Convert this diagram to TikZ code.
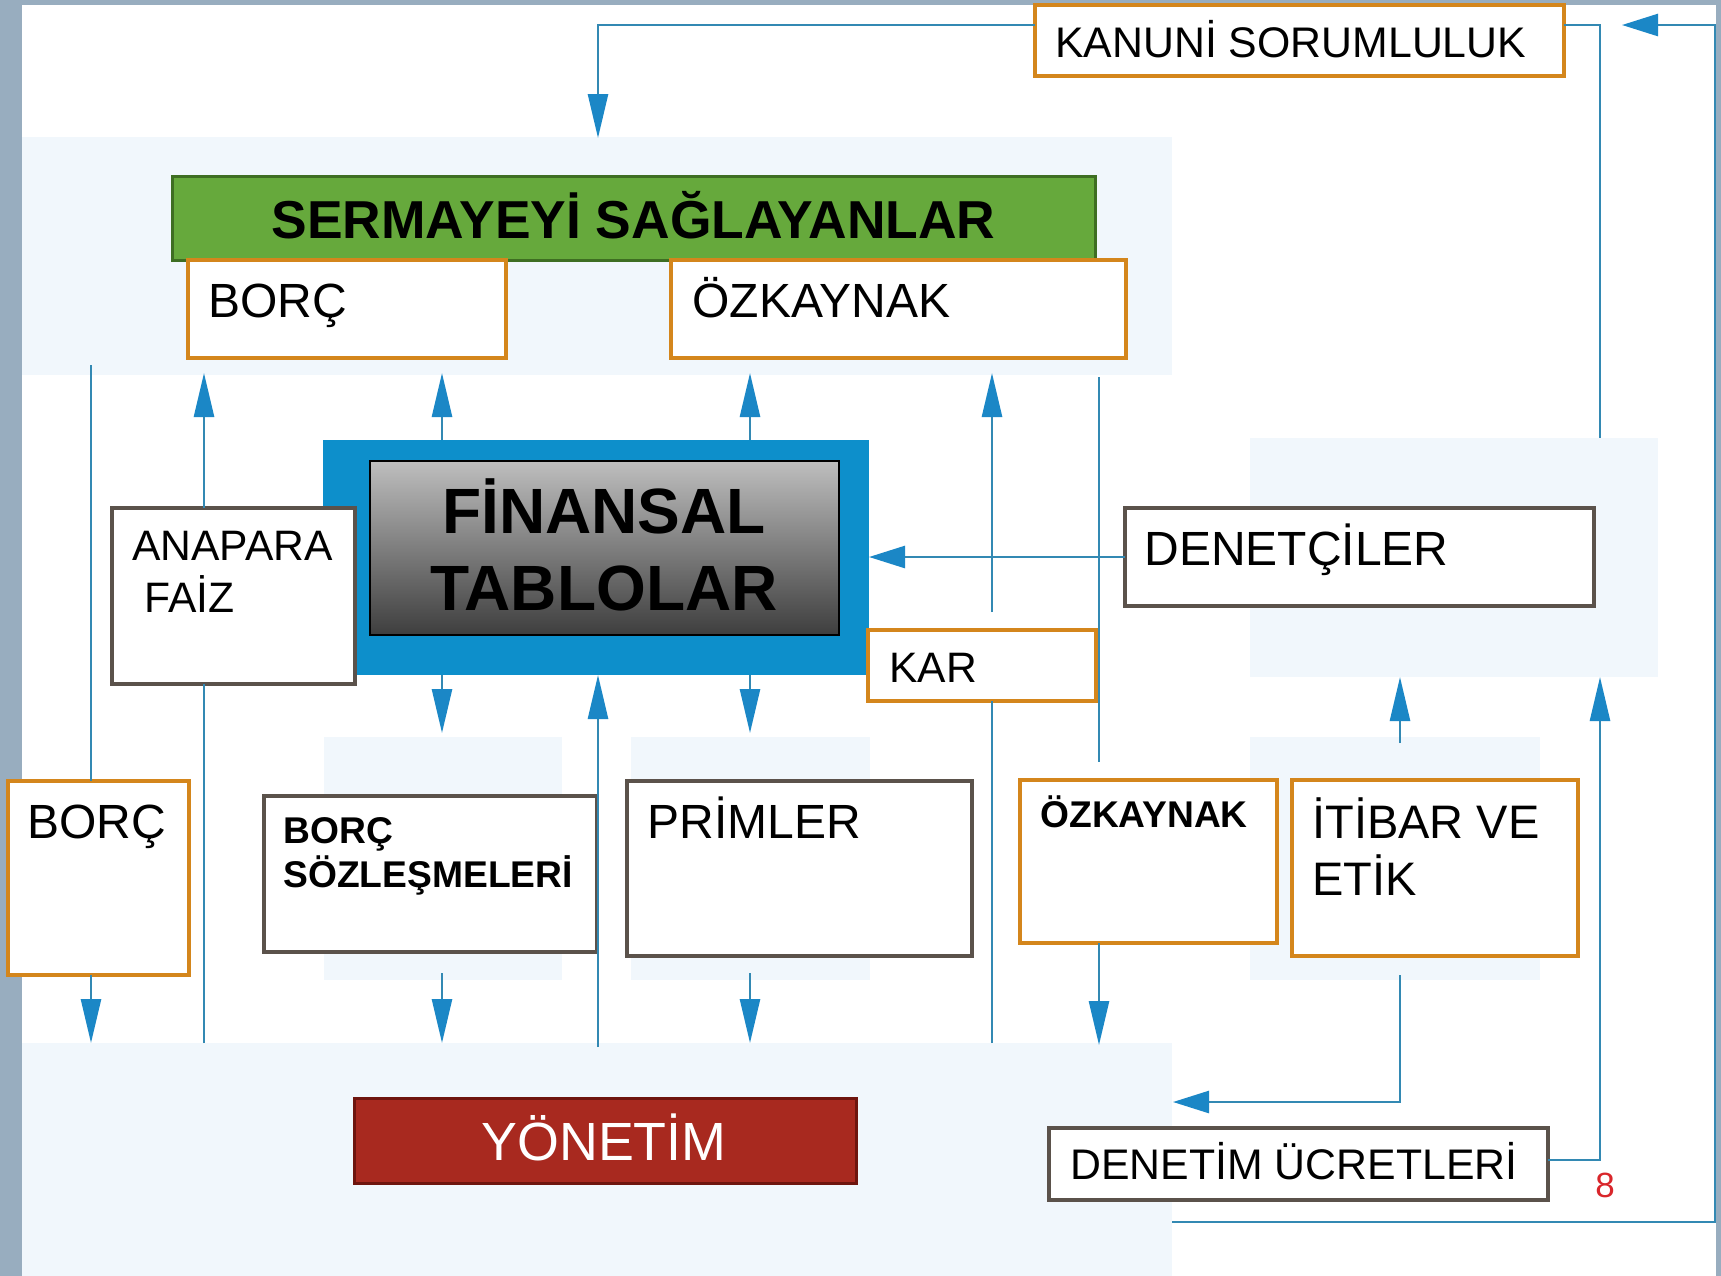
\documentclass[tikz,border=0pt]{standalone}
\usepackage{fontspec}
\setmainfont{Liberation Sans}
\usetikzlibrary{arrows.meta,calc}
\definecolor{framec}{HTML}{98ADBF}
\definecolor{tintc}{HTML}{F1F7FC}
\definecolor{orng}{HTML}{D4861C}
\definecolor{dgray}{HTML}{5B524B}
\definecolor{lineblue}{HTML}{3389B3}
\definecolor{arrblue}{HTML}{1B87C6}
\definecolor{fsblue}{HTML}{0D8FCB}
\definecolor{grn}{HTML}{66A93C}
\definecolor{grnd}{HTML}{3E6E22}
\definecolor{rd}{HTML}{A8291F}
\definecolor{rdd}{HTML}{6E150E}
\definecolor{gtop}{HTML}{BEBEBE}
\definecolor{gbot}{HTML}{3E3E3E}
\definecolor{slnum}{HTML}{D9262B}
\newcommand{\boxat}[6]{\node[#6, minimum width={(#4-#2)*0.5pt}, minimum height={(#5-#3)*0.5pt}] (#1) at ({(#2+#4)/2},{(#3+#5)/2}) {};}
\newcommand{\fs}[1]{\fontsize{#1}{#1}\selectfont}
\tikzset{
  boxbase/.style={inner sep=0pt, outer sep=0pt},
  ob/.style={boxbase, draw=orng, line width=1.6pt, fill=white},
  gb/.style={boxbase, draw=dgray, line width=1.6pt, fill=white},
  lbl/.style={anchor=base west, inner sep=0pt, text=black},
  clbl/.style={anchor=base, inner sep=0pt, text=black},
  conn/.style={draw=lineblue, line width=1.3pt},
  varr/.style={conn, -{Triangle[length=22pt,width=10pt,color=arrblue]}},
  harr/.style={conn, -{Triangle[length=18pt,width=11pt,color=arrblue]}},
  region/.style={fill=tintc, draw=none}
}
\begin{document}
\begin{tikzpicture}[x=0.5pt,y=-0.5pt]
\useasboundingbox (0,0) rectangle (1721,1276);
% frame and background
\fill[framec] (0,0) rectangle (1721,1276);
\fill[white] (22,5) rectangle (1716,1276);
% faint regions
\fill[region] (22,137) rectangle (1172,375);
\fill[region] (22,1043) rectangle (1172,1276);
\fill[region] (1250,438) rectangle (1658,677);
\fill[region] (324,737) rectangle (562,980);
\fill[region] (631,737) rectangle (870,980);
\fill[region] (1250,737) rectangle (1540,980);

% boxes
\boxat{kanuni}{1035}{5}{1564}{76}{ob}
\node[lbl, font=\fs{21.4pt}] (kanunit) at (1055,57) {KANUNİ SORUMLULUK};

\boxat{sermaye}{172}{176}{1095}{260}{boxbase, fill=grn, draw=grnd, line width=1.5pt}
\node[clbl, font=\fs{26.7pt}\bfseries] (sermayet) at (633.5,238) {SERMAYEYİ SAĞLAYANLAR};

\boxat{borc1}{188}{260}{506}{358}{ob}
\node[lbl, font=\fs{24pt}] (borc1t) at (208,317) {BORÇ};

\boxat{ozk1}{671}{260}{1126}{358}{ob}
\node[lbl, font=\fs{24pt}] (ozk1t) at (692,317) {ÖZKAYNAK};

\boxat{fsbox}{323}{440}{869}{675}{boxbase, fill=fsblue}
\boxat{fin}{370}{461}{839}{635}{boxbase, draw=black, line width=1.2pt, top color=gtop, bottom color=gbot}
\node[clbl, font=\fs{32pt}\bfseries] (fint1) at (604,533) {FİNANSAL};
\node[clbl, font=\fs{32pt}\bfseries] (fint2) at (604,610) {TABLOLAR};

\boxat{anapara}{112}{508}{355}{684}{gb}
\node[lbl, font=\fs{21.3pt}] (anaparat) at (132,560) {ANAPARA};
\node[lbl, font=\fs{21.3pt}] (faizt) at (144,612) {FAİZ};

\boxat{denet}{1125}{508}{1594}{606}{gb}
\node[lbl, font=\fs{24pt}] (denett) at (1144,565) {DENETÇİLER};

\boxat{kar}{868}{630}{1096}{701}{ob}
\node[lbl, font=\fs{21.3pt}] (kart) at (889,682) {KAR};

\boxat{borc2}{8}{781}{189}{975}{ob}
\node[lbl, font=\fs{24pt}] (borc2t) at (27,838) {BORÇ};

\boxat{borcsoz}{264}{796}{597}{952}{gb}
\node[lbl, font=\fs{18.6pt}\bfseries] (borcsozt1) at (283,843) {BORÇ};
\node[lbl, font=\fs{18.6pt}\bfseries] (borcsozt2) at (283,887) {SÖZLEŞMELERİ};

\boxat{primler}{627}{781}{972}{956}{gb}
\node[lbl, font=\fs{24pt}] (primlert) at (647,838) {PRİMLER};

\boxat{ozk2}{1020}{780}{1277}{943}{ob}
\node[lbl, font=\fs{18.6pt}\bfseries] (ozk2t) at (1040,827) {ÖZKAYNAK};

\boxat{itibar}{1292}{780}{1578}{956}{ob}
\node[lbl, font=\fs{23.5pt}] (itibart1) at (1312,838) {İTİBAR VE};
\node[lbl, font=\fs{23.5pt}] (itibart2) at (1312,895) {ETİK};

\boxat{yonetim}{354}{1098}{856}{1183}{boxbase, fill=rd, draw=rdd, line width=1.5pt}
\node[clbl, font=\fs{26.9pt}, text=white] (yonetimt) at (604,1160) {YÖNETİM};

\boxat{ucret}{1049}{1128}{1548}{1200}{gb}
\node[lbl, font=\fs{21.4pt}] (ucrett) at (1070,1179) {DENETİM ÜCRETLERİ};

\node[lbl, font=\fs{17.5pt}, text=slnum] (slnum) at (1595,1197) {8};

% helper coordinates
\coordinate (ytop) at (0,25);
\coordinate (kanEnd) at (598,138);
\coordinate (rregTop) at (1600,438);
\coordinate (rregBot) at (1600,677);
\coordinate (ucY) at (0,1160);
\coordinate (loopA) at (1172,1222);
\coordinate (loopB) at (1715,1222);
\coordinate (loopC) at (1715,25);
\coordinate (loopEnd) at (1622,25);
\coordinate (d1top) at (91,365);
\coordinate (d1bot) at (91,1043);
\coordinate (a1top) at (204,373);
\coordinate (a1bot) at (204,1043);
\coordinate (c1top) at (442,373);
\coordinate (c1mid) at (442,733);
\coordinate (c1low) at (442,973);
\coordinate (c1bot) at (442,1043);
\coordinate (c2bot) at (598,1047);
\coordinate (c3top) at (750,373);
\coordinate (c3mid) at (750,733);
\coordinate (c3low) at (750,973);
\coordinate (c3bot) at (750,1043);
\coordinate (p1top) at (992,373);
\coordinate (p1gap) at (992,612);
\coordinate (p1bot) at (992,1043);
\coordinate (e1top) at (1099,377);
\coordinate (e1gap) at (1099,762);
\coordinate (e1bot) at (1099,1045);
\coordinate (r1a) at (1400,743);
\coordinate (r1b) at (1400,677);
\coordinate (r2a) at (1400,975);
\coordinate (r2end) at (1173,1102);

% connectors
\draw[varr] (kanuni.west |- ytop) -| (kanEnd);
\draw[conn] (kanuni.east |- ytop) -| (rregTop);
\draw[varr] (ucret.east |- ucY) -| (rregBot);
\draw[harr] (loopA) -- (loopB) -- (loopC) -- (loopEnd);

\draw[conn] (d1top) -- (d1top |- borc2.north);
\draw[varr] (d1top |- borc2.south) -- (d1bot);

\draw[conn] (a1bot) -- (a1bot |- anapara.south);
\draw[varr] (a1bot |- anapara.north) -- (a1top);

\draw[varr] (c1top |- fsbox.north) -- (c1top);
\draw[varr] (c1top |- fsbox.south) -- (c1mid);
\draw[varr] (c1low) -- (c1bot);

\draw[varr] (c2bot) -- (c2bot |- fsbox.south);

\draw[varr] (c3top |- fsbox.north) -- (c3top);
\draw[varr] (c3top |- fsbox.south) -- (c3mid);
\draw[varr] (c3low) -- (c3bot);

\draw[conn] (p1bot) -- (p1bot |- kar.south);
\draw[varr] (p1gap) -- (p1top);

\draw[conn] (e1top) -- (e1gap);
\draw[varr] (e1bot |- ozk2.south) -- (e1bot);

\draw[harr] (denet.west) -- (denet.west -| fsbox.east);

\draw[varr] (r1a) -- (r1b);
\draw[harr] (r2a) |- (r2end);
\end{tikzpicture}
\end{document}
